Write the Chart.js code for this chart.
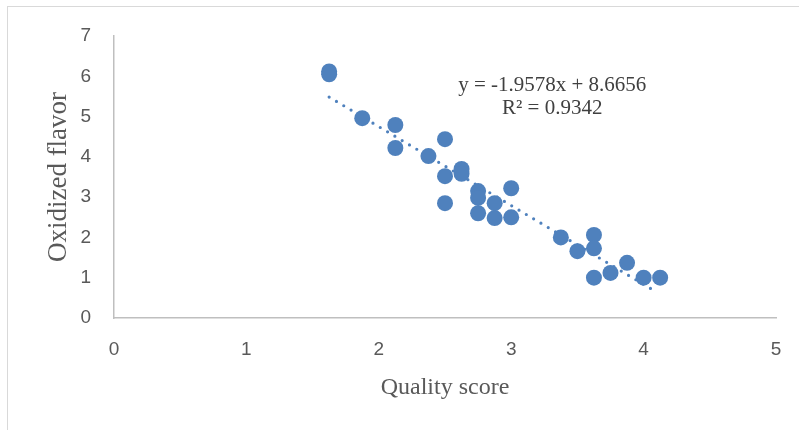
<!DOCTYPE html>
<html>
<head>
<meta charset="utf-8">
<script src="https://cdn.jsdelivr.net/npm/chart.js@4/dist/chart.umd.min.js"></script>
<style>
  html, body { margin: 0; padding: 0; background: #fff; }
  #wrap { position: relative; width: 799px; height: 430px; overflow: hidden; }
  #frame { position: absolute; left: 7px; top: 6px; width: 830px; height: 460px; border: 1.5px solid #d9d9d9; }
  #c { position: absolute; left: 0; top: 0; }
</style>
</head>
<body>
<div id="wrap">
  <div id="frame"></div>
  <canvas id="c" width="799" height="430"></canvas>
</div>
<script>
// Oxidized flavor vs quality score, with linear trendline
const qualityScore = [1.625, 1.625, 1.875, 2.125, 2.125, 2.375, 2.5, 2.5, 2.5, 2.625, 2.625, 2.75, 2.75, 2.75,
  2.875, 2.875, 3.0, 3.0, 3.375, 3.5, 3.625, 3.625, 3.625, 3.75, 3.875, 4.0, 4.125];
const oxidizedFlavor = [6.12, 6.05, 4.96, 4.79, 4.22, 4.02, 4.44, 3.52, 2.85, 3.7, 3.58, 3.15, 2.98, 2.6,
  2.85, 2.48, 3.22, 2.5, 2.0, 1.66, 2.06, 1.73, 1.0, 1.12, 1.37, 1.0, 1.0];
const xTicks = [0, 1, 2, 3, 4, 5];
const yTicks = [0, 1, 2, 3, 4, 5, 6, 7];
// trendline as printed on the chart
const slope = -1.9578, intercept = 8.6656, rSquared = 0.9342;
const trendX = [1.625, 4.1];
const eqLabel = ["y = " + slope + "x + " + intercept, "R\u00b2 = " + rSquared];
const eqAnchor = { x: 3.31, y: 5.8 };

const BLUE = "#4f81bd";
const points = qualityScore.map((x, i) => ({ x, y: oxidizedFlavor[i] }));
const trend = trendX.map((x) => ({ x, y: slope * x + intercept }));

// equation text next to the trendline
const eqPlugin = {
  id: "eq",
  afterDatasetsDraw(chart) {
    const { ctx, scales } = chart;
    const cx = scales.x.getPixelForValue(eqAnchor.x);
    const cy = scales.y.getPixelForValue(eqAnchor.y);
    ctx.save();
    ctx.font = '21px "Liberation Serif"';
    ctx.fillStyle = "#404040";
    ctx.textAlign = "center";
    ctx.textBaseline = "middle";
    eqLabel.forEach((t, i) => ctx.fillText(t, cx, cy + 1 + i * 23));
    ctx.restore();
  },
};

const tickFont = { family: "Liberation Sans", size: 19 };
new Chart(document.getElementById("c"), {
  type: "scatter",
  data: {
    datasets: [
      { label: "Oxidized flavor", data: points, backgroundColor: BLUE, borderColor: BLUE, borderWidth: 0, pointRadius: 8 },
      { type: "line", label: "Linear", data: trend, borderColor: BLUE, borderWidth: 3.2, borderDash: [0, 8.5],
        borderCapStyle: "round", pointRadius: 0, fill: false, showLine: true },
    ],
  },
  options: {
    responsive: false,
    animation: false,
    layout: { padding: { left: 0, top: 36, right: 23, bottom: 0 } },
    plugins: { legend: { display: false }, tooltip: { enabled: false } },
    scales: {
      x: {
        type: "linear", min: 0, max: 5,
        afterBuildTicks: (s) => { s.ticks = xTicks.map((v) => ({ value: v })); },
        afterFit: (s) => { s.height = 112; },
        grid: { display: false },
        border: { color: "#bfbfbf", width: 1.5 },
        ticks: { color: "#595959", font: tickFont, padding: 12 },
        title: { display: true, text: "Quality score", color: "#595959",
          font: { family: "Liberation Serif", size: 24 }, padding: { bottom: 28 } },
      },
      y: {
        type: "linear", min: 0, max: 7,
        afterBuildTicks: (s) => { s.ticks = yTicks.map((v) => ({ value: v })); },
        afterFit: (s) => { s.width = 114; },
        grid: { display: false },
        border: { color: "#bfbfbf", width: 1.5 },
        ticks: { color: "#595959", font: tickFont, padding: 15 },
        title: { display: true, text: "Oxidized flavor", color: "#595959",
          font: { family: "Liberation Serif", size: 27 }, padding: { top: 43 } },
      },
    },
  },
  plugins: [eqPlugin],
});
</script>
</body>
</html>
